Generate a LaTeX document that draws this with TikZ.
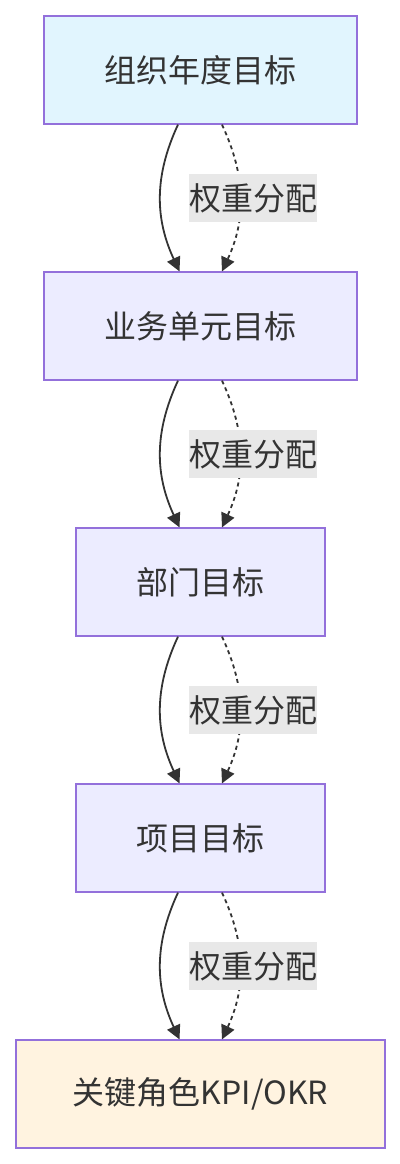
\documentclass[tikz,border=0pt]{standalone}
\usepackage{fontspec}
\setmainfont{Noto Sans CJK SC}
\usepackage{xcolor}
\usepackage{tikz}
\usetikzlibrary{
  arrows.meta,
  positioning,
}

\definecolor{boxline}{HTML}{9370DB}
\definecolor{orgfill}{HTML}{E1F5FE}
\definecolor{midfill}{HTML}{ECECFF}
\definecolor{kpifill}{HTML}{FFF3E0}
\definecolor{ink}{HTML}{333333}
\definecolor{lblfill}{HTML}{E8E8E8}

\begin{document}
\begin{tikzpicture}[
  font=\fontsize{18.2}{22}\selectfont,
  goal/.style={draw=boxline, line width=0.025cm, text=ink,
    minimum height=2.16cm, inner sep=0pt},
  flow/.style={draw=ink, line width=0.036cm,
    -{Triangle[length=0.28cm, width=0.28cm]}},
  weight/.style={flow, dash pattern=on 0.08cm off 0.07cm},
  wlabel/.style={fill=lblfill, text=ink, inner xsep=0pt,
    minimum height=0.96cm, inner ysep=0pt},
]
  % Scale: 1px = 0.02cm, y downwards
  \def\s{0.02}

  % Canvas
  \useasboundingbox (0,0) rectangle ({400*\s},{-1164*\s});

  % Goal levels
  \node[goal, fill=orgfill, minimum width=6.26cm] (org)
    at ({200.5*\s},{-70*\s}) {组织年度目标};
  \node[goal, fill=midfill, minimum width=6.26cm] (bu)
    at ({200.5*\s},{-326*\s}) {业务单元目标};
  \node[goal, fill=midfill, minimum width=4.98cm] (dept)
    at ({200.5*\s},{-582*\s}) {部门目标};
  \node[goal, fill=midfill, minimum width=4.98cm] (proj)
    at ({200.5*\s},{-838*\s}) {项目目标};
  \node[goal, fill=kpifill, minimum width=7.38cm] (kpi)
    at ({200.5*\s},{-1094*\s}) {关键角色KPI/OKR};

  % Cascades
  \foreach \a/\b in {org/bu, bu/dept, dept/proj, proj/kpi} {
    \draw[flow] ([xshift=-0.45cm]\a.south) to[out=-115, in=115]
      ([xshift=-0.42cm]\b.north);
    \draw[weight] ([xshift=0.43cm]\a.south) to[out=-65, in=65]
      node[wlabel, xshift=0.26cm] {权重分配}
      ([xshift=0.43cm]\b.north);
  }

\end{tikzpicture}
\end{document}
